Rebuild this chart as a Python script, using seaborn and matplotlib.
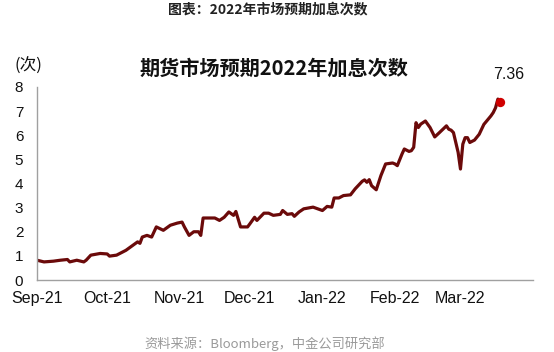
import matplotlib
matplotlib.use("Agg")
import matplotlib.pyplot as plt
import seaborn as sns
import pandas as pd

start_date = "2021-09-01"
day_offsets = [0, 3, 7, 10, 13, 14, 17, 20, 21, 23, 27, 30, 31, 34, 38, 40, 43, 44, 45, 47,
               49, 51, 54, 57, 60, 62, 63, 65, 67, 69, 70, 71, 76, 78, 80, 82, 84, 85, 87, 90,
               91, 93, 94, 97, 99, 101, 104, 105, 107, 109, 110, 112, 114, 118, 120, 122, 124,
               126, 127, 129, 131, 134, 136, 139, 140, 141, 142, 143, 145, 147, 149, 152, 153,
               154, 156, 157, 159, 160, 161, 162, 163, 164, 166, 168, 170, 172, 175, 176, 177,
               178, 179, 180, 181, 182, 183, 184, 185, 187, 189, 191, 194, 195, 196, 197, 198]
hikes = [0.82, 0.75, 0.78, 0.82, 0.85, 0.75, 0.82, 0.75, 0.82, 1.03, 1.10, 1.08, 0.99, 1.03,
         1.23, 1.37, 1.58, 1.52, 1.78, 1.85, 1.78, 2.20, 2.06, 2.27, 2.36, 2.40, 2.20, 1.85,
         2.00, 2.00, 1.85, 2.57, 2.57, 2.47, 2.60, 2.82, 2.68, 2.84, 2.20, 2.20, 2.33, 2.60,
         2.47, 2.77, 2.77, 2.68, 2.72, 2.88, 2.72, 2.75, 2.64, 2.82, 2.95, 3.02, 2.95, 2.88,
         3.05, 3.02, 3.40, 3.40, 3.50, 3.53, 3.78, 4.09, 4.15, 4.05, 4.16, 3.91, 3.74, 4.33,
         4.81, 4.85, 4.81, 4.74, 5.22, 5.43, 5.33, 5.36, 5.50, 6.52, 6.32, 6.46, 6.59, 6.32,
         5.93, 6.11, 6.39, 6.25, 6.21, 6.11, 5.70, 5.29, 4.60, 5.63, 5.90, 5.90, 5.70, 5.80,
         6.04, 6.45, 6.80, 6.94, 7.14, 7.50, 7.36]
x_tick_labels = ["Sep-21", "Oct-21", "Nov-21", "Dec-21", "Jan-22", "Feb-22", "Mar-22", ""]
x_tick_dates = ["2021-09-01", "2021-10-01", "2021-11-01", "2021-12-01", "2022-01-01",
                "2022-02-01", "2022-03-01", "2022-04-01"]
y_ticks = [0, 1, 2, 3, 4, 5, 6, 7, 8]

df = pd.DataFrame({
    "date": pd.Timestamp(start_date) + pd.to_timedelta(day_offsets, unit="D"),
    "hikes": hikes,
})

sns.set_theme(style="white")
plt.rcParams["font.family"] = ["Liberation Sans", "Noto Sans CJK SC", "DejaVu Sans"]

fig = plt.figure(figsize=(5.54, 3.52), dpi=100)
ax = fig.add_axes([37 / 554, 1 - 280 / 352, (533 - 37) / 554, (280 - 87) / 352])

sns.lineplot(data=df, x="date", y="hikes", ax=ax, color="#6B0A0A", linewidth=2.3)
last = df.iloc[-1]
ax.scatter([last["date"]], [last["hikes"]], s=45, color="#D00000", zorder=5, linewidths=0)
ax.annotate(f"{last['hikes']:.2f}", xy=(last["date"], last["hikes"]), xytext=(6, 15),
            textcoords="offset points", ha="center", va="bottom", fontsize=11.5, color="#111111")

ax.set_xlim(pd.Timestamp(x_tick_dates[0]), pd.Timestamp(x_tick_dates[-1]))
ax.set_ylim(0, 8)
ax.set_xticks([pd.Timestamp(d) for d in x_tick_dates])
ax.set_xticklabels(x_tick_labels)
ax.set_yticks(y_ticks)
ax.set_xlabel("")
ax.set_ylabel("")

for s in ["top", "right"]:
    ax.spines[s].set_visible(False)
for s in ["left", "bottom"]:
    ax.spines[s].set_color("#A0A0A0")
    ax.spines[s].set_linewidth(1.0)
ax.tick_params(axis="both", direction="in", length=4, width=1, color="#A0A0A0",
               labelcolor="#111111")
ax.tick_params(axis="x", pad=8, labelsize=11.5)
ax.tick_params(axis="y", pad=16, labelsize=11)
for lab in ax.get_yticklabels():
    lab.set_horizontalalignment("left")
ax.grid(False)

fig.text(268 / 554, 1 - 9 / 352, "图表：2022年市场预期加息次数", ha="center", va="center",
         fontsize=10, fontweight="bold", color="#222222",
         family=["Noto Sans CJK SC", "DejaVu Sans"])
fig.text(274 / 554, 1 - 68 / 352, "期货市场预期2022年加息次数", ha="center", va="center",
         fontsize=14.5, fontweight="bold", color="#111111",
         family=["Noto Sans CJK SC", "DejaVu Sans"])
fig.text(28 / 554, 1 - 66 / 352, "(次)", ha="center", va="center", fontsize=12,
         color="#111111", family=["Noto Sans CJK SC", "DejaVu Sans"])
fig.text(265 / 554, 1 - 344 / 352, "资料来源：Bloomberg，中金公司研究部", ha="center", va="center",
         fontsize=9.5, color="#9A9A9A", family=["Noto Sans CJK SC", "DejaVu Sans"])

fig.savefig("out.png", dpi=100)
